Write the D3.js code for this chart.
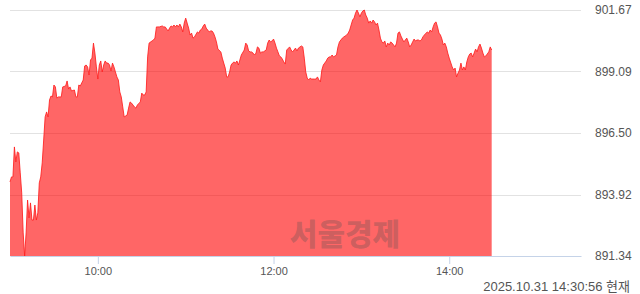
<!DOCTYPE html>
<html>
<head>
<meta charset="utf-8">
<script src="https://cdn.jsdelivr.net/npm/d3@7"></script>
<style>
  body { margin: 0; background: #fff; }
  svg { display: block; }
</style>
</head>
<body>
<svg id="chart" width="640" height="294"></svg>
<script>
// intraday index, one line per hour
const times = [
  "09:00","09:01","09:02","09:03","09:04","09:05","09:06","09:07","09:08","09:09","09:10","09:11","09:12","09:13","09:14","09:15","09:16","09:17","09:18","09:19","09:20","09:21","09:22","09:23","09:24","09:25","09:26","09:27","09:28","09:29","09:30","09:31","09:32","09:33","09:35","09:36","09:38","09:39","09:40","09:41","09:42","09:44","09:45","09:46","09:47","09:48","09:50","09:51","09:52","09:53","09:54","09:55","09:56","09:57","09:58","09:59",
  "10:00","10:01","10:02","10:03","10:04","10:05","10:06","10:07","10:08","10:09","10:10","10:11","10:12","10:13","10:14","10:15","10:16","10:17","10:18","10:20","10:21","10:22","10:23","10:24","10:25","10:26","10:27","10:29","10:30","10:31","10:32","10:33","10:34","10:35","10:37","10:38","10:39","10:40","10:41","10:42","10:44","10:45","10:46","10:47","10:48","10:49","10:50","10:51","10:52","10:53","10:54","10:55","10:56","10:57","10:58","10:59",
  "11:00","11:01","11:02","11:03","11:04","11:05","11:06","11:08","11:09","11:10","11:11","11:12","11:13","11:14","11:16","11:17","11:18","11:19","11:20","11:21","11:22","11:24","11:25","11:26","11:27","11:28","11:29","11:30","11:31","11:32","11:33","11:34","11:35","11:36","11:37","11:38","11:40","11:41","11:42","11:43","11:44","11:45","11:46","11:47","11:48","11:49","11:50","11:51","11:52","11:53","11:55","11:56","11:57","11:58","11:59",
  "12:00","12:01","12:02","12:03","12:04","12:05","12:06","12:07","12:08","12:09","12:11","12:12","12:13","12:14","12:15","12:16","12:17","12:19","12:20","12:21","12:22","12:23","12:24","12:25","12:26","12:28","12:29","12:30","12:31","12:32","12:33","12:34","12:36","12:37","12:38","12:39","12:40","12:41","12:42","12:43","12:44","12:45","12:46","12:47","12:48","12:50","12:51","12:52","12:53","12:54","12:55","12:56","12:57","12:58","12:59",
  "13:00","13:01","13:02","13:03","13:04","13:05","13:06","13:07","13:08","13:09","13:10","13:11","13:12","13:13","13:14","13:15","13:16","13:17","13:18","13:19","13:20","13:21","13:23","13:24","13:25","13:26","13:27","13:28","13:29","13:31","13:32","13:33","13:34","13:35","13:36","13:37","13:38","13:39","13:40","13:41","13:42","13:43","13:45","13:46","13:47","13:48","13:49","13:50","13:51","13:52","13:53","13:54","13:55","13:56","13:57","13:58","13:59",
  "14:00","14:02","14:03","14:04","14:05","14:06","14:07","14:08","14:09","14:10","14:11","14:12","14:13","14:14","14:15","14:16","14:17","14:18","14:19","14:20","14:21","14:22","14:23","14:24","14:25","14:27","14:28","14:29"
];

const prices = [
  894.45,894.66,894.66,895.92,895.29,895.71,895.67,894.83,893.99,892.31,891.34,892.31,893.69,892.94,893.57,892.85,892.85,893.48,892.85,893.15,894.41,894.66,895.25,896.21,897.18,897.39,897.18,897.89,898.06,898.02,898.52,898.44,897.97,898.02,898.02,898.44,898.48,898.69,898.35,898.44,898.27,898.31,898.02,898.02,898.52,898.48,898.73,899.32,899.36,899.28,898.94,899.57,899.65,900.28,899.86,899.28,
  898.77,899.36,899.53,899.07,899.36,899.53,899.44,899.44,899.36,899.11,899.44,899.28,899.07,898.86,898.73,898.23,898.02,897.60,897.18,897.26,897.55,897.81,897.76,897.68,897.60,897.55,897.68,897.81,898.18,898.10,898.10,898.23,899.70,900.28,900.37,900.41,900.49,900.96,900.96,900.96,901.00,900.96,900.96,900.87,900.79,900.91,901.00,900.96,901.04,900.96,901.04,900.96,901.08,900.96,900.75,901.12,
  901.33,901.12,900.91,900.62,900.70,900.49,900.54,900.75,900.70,900.83,900.87,901.00,901.08,900.91,900.75,900.79,900.79,900.70,900.54,900.33,900.03,899.91,899.65,899.44,899.23,898.86,898.86,899.07,899.36,899.44,899.49,899.44,899.53,899.36,899.57,899.78,899.99,900.28,900.20,899.95,899.91,899.91,899.86,899.78,899.86,900.12,900.07,899.86,899.91,899.91,899.99,900.28,900.41,900.33,900.37,
  900.45,900.28,900.07,899.91,899.74,899.70,899.61,899.49,899.40,899.99,900.12,899.99,899.91,899.99,900.07,899.95,900.07,900.16,900.12,899.65,899.07,898.81,898.73,898.81,898.77,898.77,898.77,898.86,898.73,898.65,899.15,899.36,899.53,899.65,899.70,899.70,899.78,899.70,899.74,899.78,900.12,900.33,900.41,900.49,900.54,900.62,900.70,900.83,901.04,901.25,901.33,901.54,901.67,901.54,901.38,
  901.54,901.63,901.67,901.46,901.33,901.12,901.21,901.12,901.25,901.17,901.04,901.12,900.83,900.49,900.33,900.28,900.37,900.12,900.28,900.20,900.33,900.28,900.12,900.28,900.70,900.75,900.58,900.45,900.33,900.49,900.33,900.12,900.20,900.33,900.45,900.37,900.41,900.41,900.37,900.41,900.54,900.62,900.75,900.70,900.83,900.75,900.96,901.12,901.17,900.96,900.70,900.62,900.45,900.20,900.28,900.12,899.86,
  899.65,899.28,899.15,899.23,898.86,899.02,899.15,899.44,899.15,899.28,899.15,899.49,899.70,899.82,899.86,899.70,899.86,900.03,899.91,900.12,900.24,900.07,899.86,899.70,899.74,899.91,900.12,899.99
];

const yTicks = [891.34, 893.92, 896.50, 899.09, 901.67];
const xTicks = ["10:00", "12:00", "14:00"];
const session = ["09:00", "15:30"];
const stamp = "2025.10.31 14:30:56 현재";
const watermark = "서울경제";

if (times.length !== prices.length) console.warn("length mismatch", times.length, prices.length);

const parse = d3.timeParse("%H:%M");
const data = times.map((t, i) => ({ t: parse(t), v: prices[i] }));

const plot = { left: 10, right: 581, top: 10, bottom: 256 };
const labelFont = '"Liberation Sans", Arial, "Noto Sans CJK KR", sans-serif';

const svg = d3.select("#chart");

const x = d3.scaleTime()
    .domain(session.map(parse))
    .range([plot.left, plot.right]);

const y = d3.scaleLinear()
    .domain([yTicks[0], yTicks[yTicks.length - 1]])
    .range([plot.bottom, plot.top]);

// horizontal grid
svg.append("g")
    .selectAll("line")
    .data(yTicks.slice(1))
    .enter().append("line")
    .attr("x1", plot.left)
    .attr("x2", plot.right)
    .attr("y1", d => Math.round(y(d)) + 0.5)
    .attr("y2", d => Math.round(y(d)) + 0.5)
    .attr("stroke", "#e2e2e2")
    .attr("stroke-width", 1);

// area + outline
const area = d3.area()
    .x(d => x(d.t))
    .y0(plot.bottom)
    .y1(d => y(d.v));

const line = d3.line()
    .x(d => x(d.t))
    .y(d => y(d.v));

svg.append("path")
    .datum(data)
    .attr("fill", "rgba(255,0,0,0.6)")
    .attr("d", area);

svg.append("path")
    .datum(data)
    .attr("fill", "none")
    .attr("stroke", "rgba(255,30,30,0.85)")
    .attr("stroke-width", 1)
    .attr("d", line);

// watermark
svg.append("text")
    .attr("x", 345)
    .attr("y", 245)
    .attr("text-anchor", "middle")
    .style("font-family", '"Noto Sans CJK KR", sans-serif')
    .style("font-size", "30px")
    .style("font-weight", "900")
    .attr("fill", "#505050")
    .attr("fill-opacity", 0.3)
    .text(watermark);

// x axis
const xAxis = svg.append("g")
    .attr("transform", `translate(0,${plot.bottom})`)
    .call(d3.axisBottom(x)
        .tickValues(xTicks.map(parse))
        .tickFormat(d3.timeFormat("%H:%M"))
        .tickSize(8)
        .tickSizeOuter(0)
        .tickPadding(3));

xAxis.select(".domain").attr("stroke", "#c5d3e8");
xAxis.selectAll(".tick line").attr("stroke", "#c5d3e8");
xAxis.selectAll(".tick text")
    .attr("fill", "#555")
    .style("font-family", labelFont)
    .style("font-size", "11px");

// y labels on the right
svg.append("g")
    .selectAll("text")
    .data(yTicks)
    .enter().append("text")
    .attr("x", 595)
    .attr("y", d => y(d))
    .attr("dy", "0.35em")
    .attr("fill", "#555")
    .style("font-family", labelFont)
    .style("font-size", "12px")
    .text(d => d.toFixed(2));

// timestamp
svg.append("text")
    .attr("x", 630)
    .attr("y", 291)
    .attr("text-anchor", "end")
    .attr("fill", "#555")
    .style("font-family", labelFont)
    .style("font-size", "13px")
    .text(stamp);
</script>
</body>
</html>
